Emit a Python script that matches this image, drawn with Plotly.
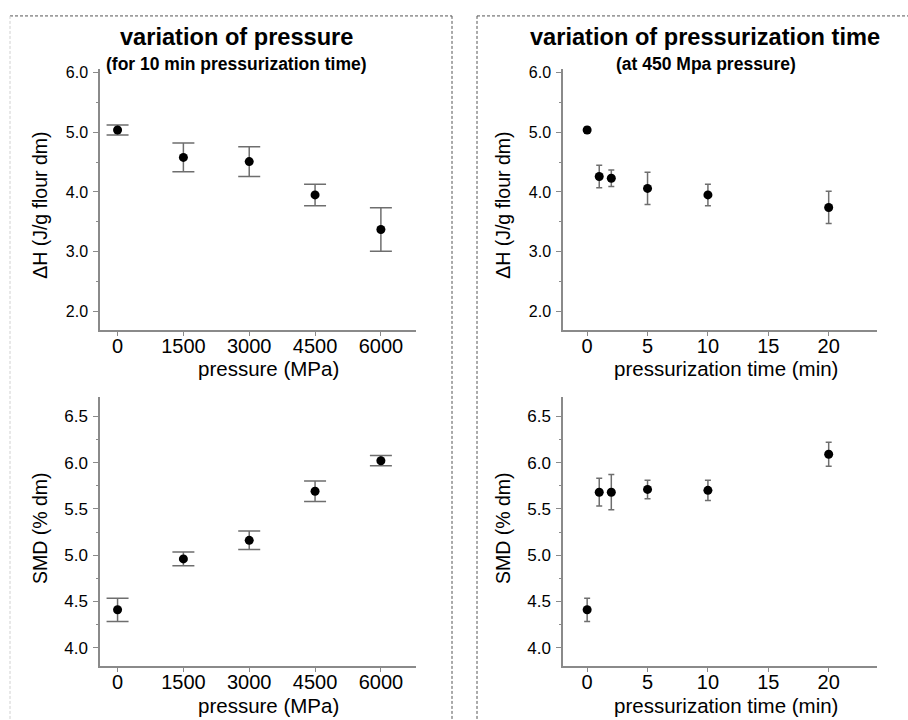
import plotly.graph_objects as go

# ---- data ----
pressure = [0, 1500, 3000, 4500, 6000]
dh_pressure = [5.04, 4.58, 4.51, 3.95, 3.37]
dh_pressure_err = [0.085, 0.24, 0.25, 0.18, 0.365]
smd_pressure = [4.41, 4.96, 5.16, 5.69, 6.02]
smd_pressure_err = [0.125, 0.075, 0.10, 0.11, 0.055]

time_min = [0, 1, 2, 5, 10, 20]
dh_time = [5.04, 4.26, 4.23, 4.06, 3.95, 3.74]
dh_time_err = [0.05, 0.19, 0.14, 0.27, 0.18, 0.27]
smd_time = [4.41, 5.68, 5.68, 5.71, 5.70, 6.09]
smd_time_err = [0.125, 0.15, 0.19, 0.10, 0.11, 0.13]

pressure_ticks = [0, 1500, 3000, 4500, 6000]
time_ticks = [0, 5, 10, 15, 20]
dh_ticks = [2.0, 3.0, 4.0, 5.0, 6.0]
smd_ticks = [4.0, 4.5, 5.0, 5.5, 6.0, 6.5]

W, H = 908, 720
FONT = "Liberation Sans, Arial, sans-serif"
AX = "#8a8a8a"
ERR = "#6e6e6e"


def px(x):
    return x / W


def py(y):
    return 1 - y / H


fig = go.Figure()


def add_series(x, y, err, xa, ya, capw):
    fig.add_trace(go.Scatter(
        x=x, y=y, mode="markers", xaxis=xa, yaxis=ya,
        marker=dict(color="black", size=9),
        error_y=dict(type="data", array=err, visible=True, color=ERR,
                     thickness=1.5, width=capw),
        showlegend=False, hoverinfo="x+y"))


add_series(pressure, dh_pressure, dh_pressure_err, "x", "y", 11)
add_series(time_min, dh_time, dh_time_err, "x2", "y2", 3)
add_series(pressure, smd_pressure, smd_pressure_err, "x3", "y3", 11)
add_series(time_min, smd_time, smd_time_err, "x4", "y4", 3)


def xaxis(domain, rng, ticks, anchor):
    return dict(domain=domain, range=rng, tickvals=ticks, anchor=anchor,
                showline=True, linecolor=AX, linewidth=1.5, showgrid=False,
                zeroline=False, ticks="outside", ticklen=4, tickcolor=AX,
                ticklabelstandoff=-7,
                tickfont=dict(family=FONT, size=20, color="black"))


def yaxis(domain, rng, ticks, anchor, minor_dtick, size):
    return dict(domain=domain, range=rng, tickvals=ticks, anchor=anchor,
                tickformat=".1f",
                showline=True, linecolor=AX, linewidth=1.5, showgrid=False,
                zeroline=False, ticks="outside", ticklen=5, tickcolor=AX,
                ticklabelstandoff=2,
                minor=dict(ticks="outside", ticklen=2, tickcolor=AX,
                           dtick=minor_dtick, tick0=0, showgrid=False),
                tickfont=dict(family=FONT, size=size, color="black"))


xl = [px(100), px(416)]
xr = [px(563), px(877)]
yt = [py(328), py(65)]
yb = [py(666), py(395)]

fig.update_layout(
    width=W, height=H, margin=dict(l=0, r=0, t=0, b=0),
    paper_bgcolor="white", plot_bgcolor="white",
    xaxis=xaxis(xl, [-400, 6800], pressure_ticks, "y"),
    yaxis=yaxis(yt, [1.68, 6.07], dh_ticks, "x", 0.5, 16),
    xaxis2=xaxis(xr, [-2, 24], time_ticks, "y2"),
    yaxis2=yaxis(yt, [1.68, 6.07], dh_ticks, "x2", 0.5, 16),
    xaxis3=xaxis(xl, [-400, 6800], pressure_ticks, "y3"),
    yaxis3=yaxis(yb, [3.8, 6.71], smd_ticks, "x3", 0.25, 17),
    xaxis4=xaxis(xr, [-2, 24], time_ticks, "y4"),
    yaxis4=yaxis(yb, [3.8, 6.71], smd_ticks, "x4", 0.25, 17),
)


def ann(text, x, y, size, bold=False, angle=0):
    fig.add_annotation(
        text=f"<b>{text}</b>" if bold else text,
        x=px(x), y=py(y), xref="paper", yref="paper",
        xanchor="center", yanchor="middle", showarrow=False,
        textangle=angle, font=dict(family=FONT, size=size, color="black"))


# titles
ann("variation of pressure", 236, 33, 23.6, bold=True)
ann("(for 10 min pressurization time)", 237, 60, 17.5, bold=True)
ann("variation of pressurization time", 705, 33, 23.6, bold=True)
ann("(at 450 Mpa pressure)", 706, 60, 17.5, bold=True)

# axis titles
ann("ΔH (J/g flour dm)", 40, 203, 19.5, angle=-90)
ann("ΔH (J/g flour dm)", 503, 203, 19.5, angle=-90)
ann("SMD (% dm)", 40, 527, 19.5, angle=-90)
ann("SMD (% dm)", 503, 527, 19.5, angle=-90)
ann("pressure (MPa)", 268, 367, 20.5)
ann("pressurization time (min)", 726, 367, 20.5)
ann("pressure (MPa)", 268, 705, 20.5)
ann("pressurization time (min)", 726, 705, 20.5)

# dashed frames
def seg(x0, y0, x1, y1, color):
    fig.add_shape(type="line", xref="paper", yref="paper",
                  x0=px(x0), y0=py(y0), x1=px(x1), y1=py(y1),
                  line=dict(color=color, width=1, dash="3px,2px"))


seg(10, 12, 452, 12, "#555555")
seg(10, 12, 10, 720, "#d0d0d0")
seg(452, 12, 452, 720, "#555555")
seg(477, 12, 908, 12, "#555555")
seg(477, 12, 477, 720, "#555555")

fig.write_html(
    "out.html",
    config={"displayModeBar": False},
    post_script=(
        "document.body.style.margin='0';document.body.style.padding='0';"
        "document.documentElement.style.overflow='hidden';"
        "var d=document.getElementById('{plot_id}');"
        "d.style.position='absolute';d.style.top='0px';d.style.left='0px';"
    ),
)
